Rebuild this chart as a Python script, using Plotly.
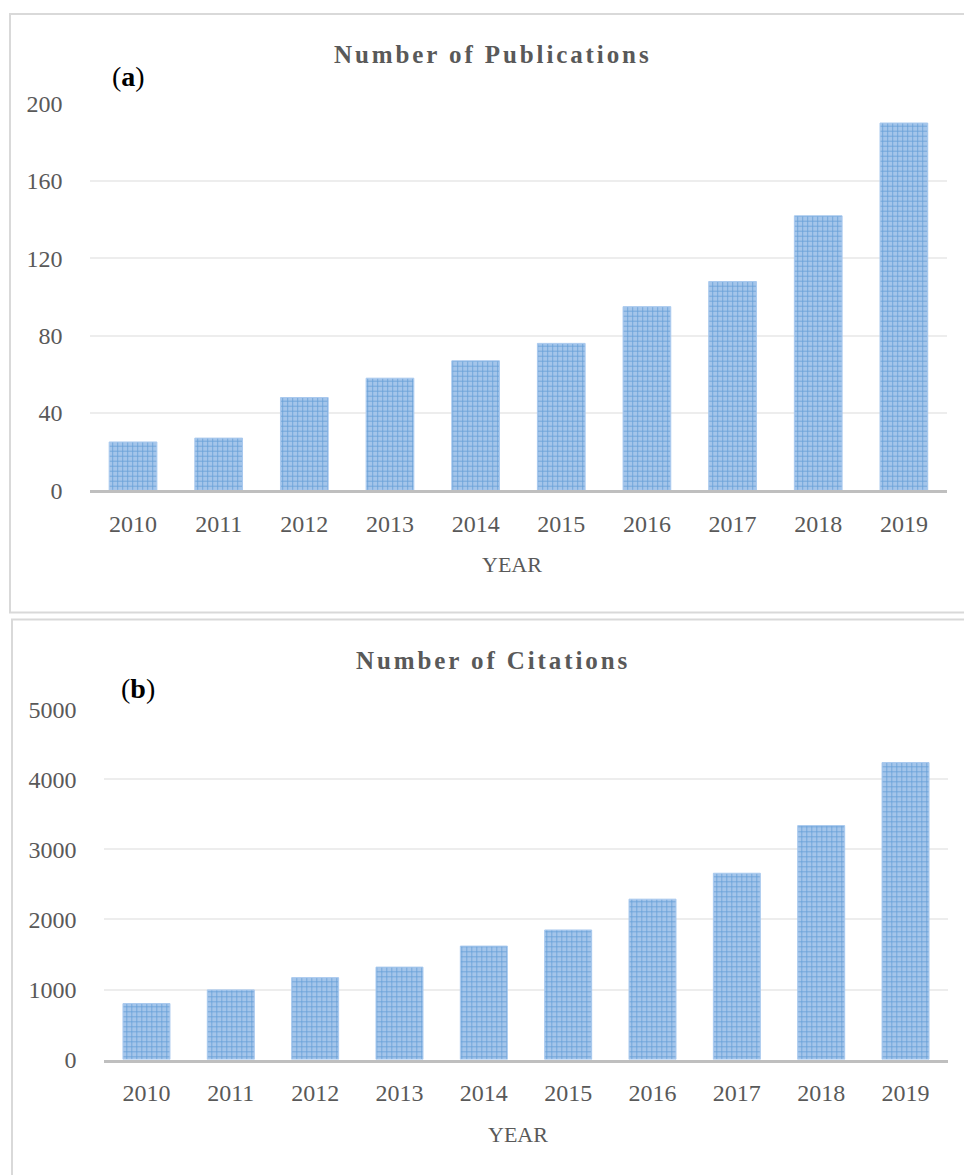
import plotly.graph_objects as go

years = ["2010", "2011", "2012", "2013", "2014", "2015", "2016", "2017", "2018", "2019"]
publications = [25, 27, 48, 58, 67, 76, 95, 108, 142, 190]
citations = [800, 995, 1170, 1320, 1620, 1850, 2290, 2660, 3340, 4240]

title_a = "Number of Publications"
title_b = "Number of Citations"
label_a = "(<b>a</b>)"
label_b = "(<b>b</b>)"
x_title = "YEAR"

W, H = 964, 1175
FONT = "Liberation Serif, Times New Roman, serif"
GRAY = "#595959"

def px(x):
    return x / W

def py(y):
    return 1 - y / H

bar_style = dict(
    marker=dict(
        color="#8fb6e3",
        line=dict(color="#a9c9ee", width=1),
        pattern=dict(shape="+", fgcolor="#68a0d8", bgcolor="#a4c5ea", size=5, solidity=0.3, fillmode="replace"),
    ),
    hoverinfo="x+y",
    showlegend=False,
)

fig = go.Figure()
fig.add_trace(go.Bar(x=years, y=publications, xaxis="x", yaxis="y", **bar_style))
fig.add_trace(go.Bar(x=years, y=citations, xaxis="x2", yaxis="y2", **bar_style))

xcommon = dict(
    type="category", automargin=False,
    showline=True, linecolor="#bfbfbf", linewidth=3,
    showgrid=False, zeroline=False,
    ticks="outside", ticklen=10, tickcolor="rgba(0,0,0,0)",
    tickfont=dict(family=FONT, size=24, color=GRAY),
    fixedrange=True,
)
ycommon = dict(
    automargin=False,
    showline=False, zeroline=False,
    showgrid=True, gridcolor="#ededed", gridwidth=1.5,
    ticks="outside", ticklen=22, tickcolor="rgba(0,0,0,0)",
    tickfont=dict(family=FONT, size=24, color=GRAY),
    fixedrange=True,
)

fig.update_layout(
    width=W, height=H,
    margin=dict(l=0, r=0, t=0, b=0, pad=0, autoexpand=False),
    paper_bgcolor="white", plot_bgcolor="white",
    bargap=0.443,
    xaxis=dict(domain=[px(90.2), px(946.7)], anchor="y", **xcommon),
    yaxis=dict(domain=[py(490.3), py(103.7)], anchor="x", range=[0, 200], dtick=40, **ycommon),
    xaxis2=dict(domain=[px(104.3), px(947.7)], anchor="y2", **xcommon),
    yaxis2=dict(domain=[py(1059.6), py(709.3)], anchor="x2", range=[0, 5000], dtick=1000, **ycommon),
)

# panel borders
fig.add_shape(type="rect", xref="paper", yref="paper",
              x0=px(10), x1=px(975), y0=py(612.5), y1=py(14),
              line=dict(color="#d9d9d9", width=2), fillcolor="rgba(0,0,0,0)", layer="below")
fig.add_shape(type="rect", xref="paper", yref="paper",
              x0=px(12), x1=px(975), y0=py(1190), y1=py(619.5),
              line=dict(color="#d9d9d9", width=2), fillcolor="rgba(0,0,0,0)", layer="below")

def ann(text, x, y, size, color, xanchor="center"):
    fig.add_annotation(
        text=text, x=px(x), y=py(y), xref="paper", yref="paper",
        xanchor=xanchor, yanchor="middle", showarrow=False,
        font=dict(family=FONT, size=size, color=color),
    )

ann('<b><span style="letter-spacing:2.9px">' + title_a + '</span></b>', 493, 54, 25, GRAY)
ann('<b><span style="letter-spacing:2.9px">' + title_b + '</span></b>', 493, 660, 25, GRAY)
ann(label_a, 128, 76, 28, "black")
ann(label_b, 138, 688, 28, "black")
ann(x_title, 512, 565, 22, GRAY)
ann(x_title, 518, 1134, 22, GRAY)

fig.write_html("out.html")
